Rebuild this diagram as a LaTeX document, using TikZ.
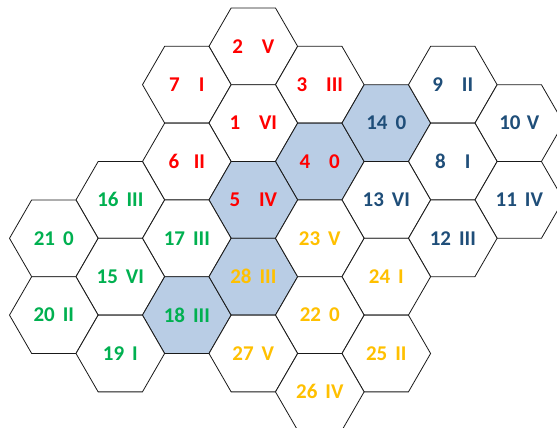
\documentclass[tikz,border=0pt]{standalone}
\usepackage{fontspec}
\setmainfont{Carlito}
\usetikzlibrary{shapes.geometric}

\definecolor{tred}{HTML}{FF0000}
\definecolor{tblue}{HTML}{1F4E79}
\definecolor{tgreen}{HTML}{00B050}
\definecolor{tgold}{HTML}{FFC000}
\definecolor{hexfill}{HTML}{B9CDE5}

\newcommand{\wgap}{\hspace{0.9em}}
\newcommand{\ngap}{\hspace{0.38em}}

\tikzset{
  hexcell/.style={regular polygon, regular polygon sides=6, minimum size=88.6pt,
    inner sep=0pt, draw=black!90, line width=0.8pt, fill=white,
    font=\fontsize{21}{25}\selectfont\bfseries},
  marked/.style={fill=hexfill}
}

\begin{document}
\begin{tikzpicture}[x=1pt, y=-1pt]
  \useasboundingbox (0,0) rectangle (557,428);
  \clip (0,0) rectangle (557,428);

  % red group
  \node[hexcell, text=tred] (h2) at (253.3, 46.3) {2\wgap V};
  \node[hexcell, text=tred] (h7) at (186.8, 84.7) {7\wgap I};
  \node[hexcell, text=tred] (h3) at (319.8, 84.7) {3\wgap III};
  \node[hexcell, text=tred] (h1) at (253.3, 123.1) {1\wgap VI};
  \node[hexcell, text=tred] (h6) at (186.8, 161.5) {6\hspace{0.7em}II};
  \node[hexcell, marked, text=tred] (h4) at (319.8, 161.5) {4\wgap 0};
  \node[hexcell, marked, text=tred] (h5) at (253.3, 199.9) {5\wgap IV};

  % blue group
  \node[hexcell, marked, text=tblue] (h14) at (386.3, 123.1) {14\ngap 0};
  \node[hexcell, text=tblue] (h9) at (452.8, 84.7) {9\wgap II};
  \node[hexcell, text=tblue] (h10) at (519.3, 123.1) {10\hspace{0.3em}V};
  \node[hexcell, text=tblue] (h8) at (452.8, 161.5) {8\wgap I};
  \node[hexcell, text=tblue] (h13) at (386.3, 199.9) {13\ngap VI};
  \node[hexcell, text=tblue] (h11) at (519.3, 199.9) {11\ngap IV};
  \node[hexcell, text=tblue] (h12) at (452.8, 238.3) {12\ngap III};

  % green group
  \node[hexcell, text=tgreen] (h16) at (120.3, 199.9) {16\ngap III};
  \node[hexcell, text=tgreen] (h21) at (53.8, 238.3) {21\ngap 0};
  \node[hexcell, text=tgreen] (h17) at (186.8, 238.3) {17\ngap III};
  \node[hexcell, text=tgreen] (h15) at (120.3, 276.7) {15\ngap VI};
  \node[hexcell, text=tgreen] (h20) at (53.8, 315.1) {20\ngap II};
  \node[hexcell, marked, text=tgreen] (h18) at (186.8, 315.1) {18\ngap III};
  \node[hexcell, text=tgreen] (h19) at (120.3, 353.5) {19\ngap I};

  % gold group
  \node[hexcell, marked, text=tgold] (h28) at (253.3, 276.7) {28\ngap III};
  \node[hexcell, text=tgold] (h23) at (319.8, 238.3) {23\ngap V};
  \node[hexcell, text=tgold] (h24) at (386.3, 276.7) {24\ngap I};
  \node[hexcell, text=tgold] (h22) at (319.8, 315.1) {22\ngap 0};
  \node[hexcell, text=tgold] (h27) at (253.3, 353.5) {27\ngap V};
  \node[hexcell, text=tgold] (h25) at (386.3, 353.5) {25\ngap II};
  \node[hexcell, text=tgold] (h26) at (319.8, 391.9) {26\ngap IV};
\end{tikzpicture}
\end{document}
